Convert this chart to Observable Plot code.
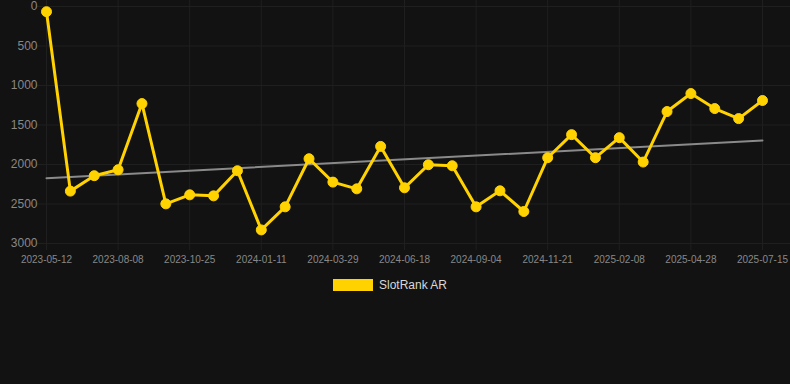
<!DOCTYPE html>
<html>
<head>
<meta charset="utf-8">
<script src="https://cdn.jsdelivr.net/npm/d3@7"></script>
<script src="https://cdn.jsdelivr.net/npm/@observablehq/plot@0.6"></script>
<style>
  html, body { margin: 0; padding: 0; background: #121212; }
  body { width: 790px; height: 384px; overflow: hidden; font-family: "Liberation Sans", Arial, sans-serif; }
  #legend { display: flex; justify-content: center; align-items: center; height: 30px; margin-top: 0px; padding-right: 10px; }
  #legend .sw { width: 40px; height: 12px; background: #FFD200; margin-right: 6px; }
  #legend .lb { color: #d8d8d8; font-size: 12px; }
</style>
</head>
<body>
<div id="chart"></div>
<div id="legend"><span class="sw"></span><span class="lb">SlotRank AR</span></div>
<script>
const dates = [
  "2023-05-12","2023-06-10","2023-07-09","2023-08-08","2023-09-03","2023-09-29",
  "2023-10-25","2023-11-20","2023-12-16","2024-01-11","2024-02-06","2024-03-03",
  "2024-03-29","2024-04-25","2024-05-22","2024-06-18","2024-07-14","2024-08-09",
  "2024-09-04","2024-09-30","2024-10-26","2024-11-21","2024-12-17","2025-01-13",
  "2025-02-08","2025-03-06","2025-04-01","2025-04-28","2025-05-24","2025-06-19",
  "2025-07-15"
];
const ranks = [
  66, 2337, 2142, 2066, 1229, 2498, 2384, 2397, 2079, 2828, 2536, 1927,
  2223, 2308, 1771, 2295, 2003, 2016, 2536, 2333, 2595, 1914, 1622, 1914,
  1660, 1969, 1330, 1102, 1292, 1419, 1190
];
const yTicks = [0, 500, 1000, 1500, 2000, 2500, 3000];
const xTickEvery = 3;

const data = dates.map((d, i) => ({i, date: d, rank: ranks[i]}));
const xTicks = data.filter(d => d.i % xTickEvery === 0).map(d => d.i);

const chart = Plot.plot({
  width: 790,
  height: 270,
  marginLeft: 46,
  marginRight: 28,
  marginTop: 6,
  marginBottom: 27,
  style: {background: "#121212", color: "#888", fontFamily: "'Liberation Sans', Arial, sans-serif"},
  x: {type: "linear", domain: [0, dates.length - 1]},
  y: {domain: [0, 3000], reverse: true},
  marks: [
    Plot.ruleX(xTicks, {x: d => d, stroke: "#1f1f1f", strokeWidth: 1, insetBottom: -7, insetTop: -6}),
    Plot.ruleY(yTicks, {y: d => d, stroke: "#1f1f1f", strokeWidth: 1, insetLeft: -9, insetRight: -28}),
    Plot.axisY(yTicks, {tickSize: 0, tickPadding: 9, fontSize: 12, fill: "#888", label: null,
      tickFormat: d => String(d)}),
    Plot.axisX(xTicks, {tickSize: 0, tickPadding: 12, fontSize: 10, fill: "#888", label: null,
      tickFormat: i => dates[i]}),
    Plot.linearRegressionY(data, {x: "i", y: "rank", stroke: "#8a8a8a", strokeWidth: 2, ci: 0}),
    Plot.line(data, {x: "i", y: "rank", stroke: "#FFD200", strokeWidth: 3}),
    Plot.dot(data, {x: "i", y: "rank", r: 5, fill: "#FFD200", stroke: "#FFD200", strokeWidth: 1})
  ]
});
document.getElementById("chart").appendChild(chart);
</script>
</body>
</html>
